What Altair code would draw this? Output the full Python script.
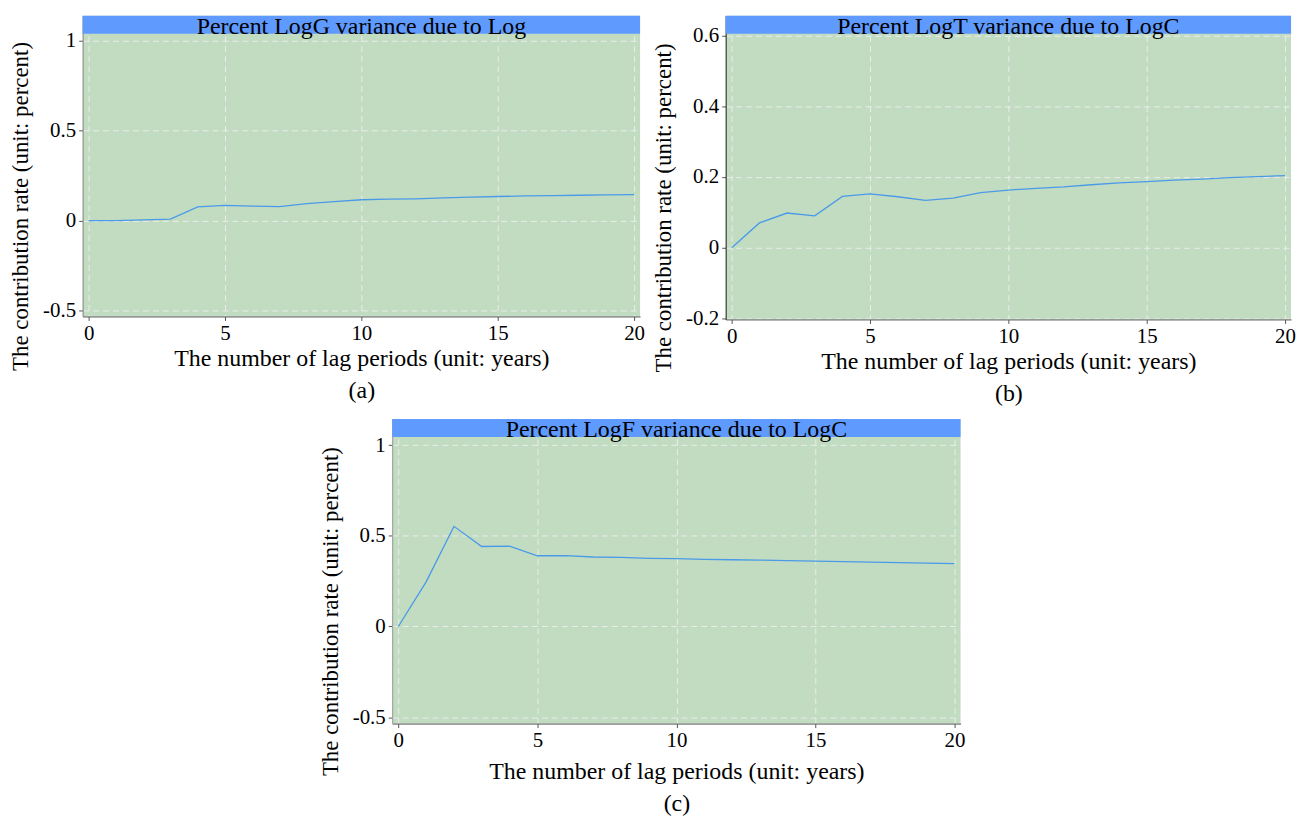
import altair as alt
import pandas as pd

lags = list(range(21))
val_a = [0.0, 0.0, 0.004, 0.008, 0.076, 0.085, 0.081, 0.078, 0.095, 0.106, 0.116,
         0.119, 0.121, 0.126, 0.131, 0.134, 0.137, 0.139, 0.141, 0.143, 0.145]
val_b = [0.0, 0.070, 0.098, 0.090, 0.145, 0.152, 0.144, 0.134, 0.140, 0.156, 0.163,
         0.168, 0.172, 0.178, 0.183, 0.187, 0.191, 0.194, 0.198, 0.201, 0.204]
val_c = [0.0, 0.246, 0.552, 0.441, 0.443, 0.390, 0.391, 0.383, 0.381, 0.376, 0.374,
         0.370, 0.368, 0.366, 0.363, 0.360, 0.358, 0.355, 0.352, 0.349, 0.346]

titles = ["Percent LogG variance due to Log",
          "Percent LogT variance due to LogC",
          "Percent LogF variance due to LogC"]
captions = ["(a)", "(b)", "(c)"]
y_ticks_a = [-0.5, 0, 0.5, 1]
y_ticks_b = [-0.2, 0, 0.2, 0.4, 0.6]
y_ticks_c = [-0.5, 0, 0.5, 1]
x_ticks = [0, 5, 10, 15, 20]
x_title = "The number of lag periods (unit: years)"
y_title = "The contribution rate (unit: percent)"

FONT = "Liberation Serif"
GREEN = "#c2dcc2"
BLUE = "#5f9bff"
LINE = "#4a9ae8"
BAND = 18


def panel(vals, title, caption, ydom, yticks, w, h, ycol, xpad):
    df = pd.DataFrame({"lag": lags, "val": vals})
    ymin, ymax = ydom
    ytop = ymax + BAND * (ymax - ymin) / (h - BAND)
    xs = alt.Scale(domain=[-0.22, 20.22], nice=False, zero=False)
    ys = alt.Scale(domain=[ymin, ytop], nice=False, zero=False)
    line = alt.Chart(df).mark_line(color=LINE, strokeWidth=1.3).encode(
        x=alt.X("lag:Q", scale=xs,
                axis=alt.Axis(values=x_ticks, title=[x_title, caption],
                              titleFontSize=24, titleLineHeight=32,
                              titlePadding=xpad, labelFontSize=21, labelPadding=2)),
        y=alt.Y("val:Q", scale=ys,
                axis=alt.Axis(values=yticks, title=y_title,
                              labelExpr="datum.value", domainColor=ycol,
                              titleFontSize=23,
                              labelFontSize=21, labelPadding=3,
                              minExtent=40, maxExtent=40, titlePadding=10,
                              titleY=(h + BAND) / 2 + 31)),
    )
    tdf = pd.DataFrame({"t": [title]})
    band = alt.Chart(tdf).mark_rect(color=BLUE).encode(
        x=alt.value(0), x2=alt.value(w), y=alt.value(0), y2=alt.value(BAND))
    txt = alt.Chart(tdf).mark_text(font=FONT, fontSize=24, color="black",
                                   baseline="middle").encode(
        x=alt.value(w / 2), y=alt.value(BAND / 2 + 2), text="t:N")
    return alt.layer(band, line, txt).properties(
        width=w, height=h, view=alt.ViewBackground(fill=GREEN, stroke=None))


pa = panel(val_a, titles[0], captions[0], [-0.533, 1.039], y_ticks_a, 560, 302, "#888888", 3)
pb = panel(val_b, titles[1], captions[1], [-0.203, 0.605], y_ticks_b, 568, 305, "#222222", 3)
pc = panel(val_c, titles[2], captions[2], [-0.535, 1.045], y_ticks_c, 571, 306, "#999999", 9)

spacer = alt.Chart(pd.DataFrame({"s": [0]})).mark_point(opacity=0).encode(
    x=alt.value(0), y=alt.value(0)
).properties(width=238, height=10,
             view=alt.ViewBackground(fill="white", stroke=None))

top = alt.hconcat(pa, pb, spacing=8)
bottom = alt.hconcat(spacer, pc, spacing=0)
chart = alt.vconcat(top, bottom, spacing=11).properties(
    padding={"left": 2, "top": 5, "right": 5, "bottom": 5},
    background="white",
).configure_view(stroke=None).configure_axis(
    labelFont=FONT, titleFont=FONT, titleFontWeight="normal",
    labelColor="black", titleColor="black",
    domainColor="#555555", tickColor="#555555", tickSize=4,
    grid=True, gridColor="#eeeeee", gridDash=[6, 4], gridWidth=1, gridOpacity=0.9,
    labelFlush=False, labelOverlap=False,
)

chart.save("out.html", embed_options={"renderer": "svg", "actions": False})
